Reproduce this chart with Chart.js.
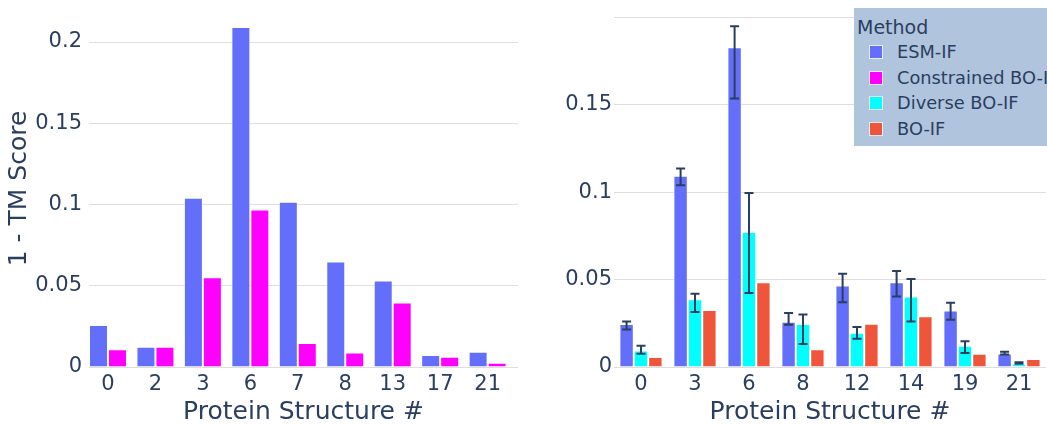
<!DOCTYPE html>
<html>
<head>
<meta charset="utf-8">
<script src="https://cdn.jsdelivr.net/npm/chart.js@4.4.1/dist/chart.umd.min.js"></script>
<style>
  html, body { margin: 0; padding: 0; background: #fff; overflow: hidden; }
  #wrap { position: relative; width: 1047px; height: 424px; overflow: hidden; }
  #leftBox { position: absolute; left: 0; top: 0; width: 530px; height: 424px; }
  #rightBox { position: absolute; left: 530px; top: 0; width: 517px; height: 424px; }
  #legend { position: absolute; left: 854px; top: 8px; width: 200px; height: 138px;
    background: #b0c4de; font-family: 'DejaVu Sans', sans-serif; color: #2a3f5f; }
  #legend .title { position: absolute; left: 3px; top: 8px; font-size: 19px; line-height: 22px; }
  #legend .item { position: absolute; left: 15px; height: 20px; font-size: 17.8px; line-height: 20px; white-space: nowrap; }
  #legend .sw { position: absolute; left: 0; top: 3px; width: 12px; height: 12px; border: 1px solid #e8ecf8; }
  #legend .lbl { position: absolute; left: 28px; top: 0; }
</style>
</head>
<body>
<div id="wrap">
  <div id="leftBox"><canvas id="leftChart" width="530" height="424"></canvas></div>
  <div id="rightBox"><canvas id="rightChart" width="517" height="424"></canvas></div>
  <div id="legend"></div>
</div>
<script>
// left panel
const leftCategories = ['0', '2', '3', '6', '7', '8', '13', '17', '21'];
const leftEsm = [0.0258, 0.0125, 0.1042, 0.2092, 0.1017, 0.0649, 0.0532, 0.0074, 0.0094];
const leftConstrained = [0.011, 0.0125, 0.0553, 0.097, 0.0147, 0.009, 0.0397, 0.0063, 0.0026];

// right panel
const rightCategories = ['0', '3', '6', '8', '12', '14', '19', '21'];
const rightEsm = [0.0246, 0.1095, 0.183, 0.0259, 0.0467, 0.0485, 0.0324, 0.0078];
const rightEsmLow = [0.0214, 0.104, 0.1537, 0.0242, 0.037, 0.0404, 0.0271, 0.0072];
const rightEsmHigh = [0.0261, 0.1136, 0.1951, 0.0309, 0.0534, 0.055, 0.0368, 0.0088];
const rightDiverse = [0.0095, 0.0388, 0.0773, 0.0246, 0.0196, 0.0404, 0.0122, 0.0019];
const rightDiverseLow = [0.0076, 0.0315, 0.0424, 0.0132, 0.0162, 0.0261, 0.008, 0.0019];
const rightDiverseHigh = [0.0122, 0.042, 0.0996, 0.0301, 0.0229, 0.0504, 0.0147, 0.0027];
const rightBoif = [0.0057, 0.0326, 0.0485, 0.0101, 0.0248, 0.029, 0.0076, 0.0046];

const methods = ['ESM-IF', 'Constrained BO-IF', 'Diverse BO-IF', 'BO-IF'];
const methodColors = ['#636efa', '#ff00ff', '#00ffff', '#ef553b'];
const yTickValues = [0, 0.05, 0.1, 0.15, 0.2];

const textColor = '#2a3f5f';
const gridColor = '#dedede';
const fontFamily = "'DejaVu Sans', sans-serif";

const errorBars = {
  id: 'errorBars',
  afterDatasetsDraw(chart) {
    const ctx = chart.ctx;
    const y = chart.scales.y;
    ctx.save();
    ctx.strokeStyle = textColor;
    ctx.lineWidth = 2;
    chart.data.datasets.forEach((ds, di) => {
      if (!ds.errLow) return;
      chart.getDatasetMeta(di).data.forEach((bar, i) => {
        const top = y.getPixelForValue(ds.errHigh[i]);
        const bot = y.getPixelForValue(ds.errLow[i]);
        ctx.beginPath();
        ctx.moveTo(bar.x, top); ctx.lineTo(bar.x, bot);
        ctx.moveTo(bar.x - 4.5, top); ctx.lineTo(bar.x + 4.5, top);
        ctx.moveTo(bar.x - 4.5, bot); ctx.lineTo(bar.x + 4.5, bot);
        ctx.stroke();
      });
    });
    ctx.restore();
  }
};

function barSet(label, values, color, extra) {
  return Object.assign({
    label: label,
    data: values,
    backgroundColor: color,
    borderColor: 'rgba(255,255,255,0.55)',
    borderWidth: 1,
    categoryPercentage: 0.8,
    barPercentage: 1.0
  }, extra || {});
}

function yScale(max, axisWidth, labelPad, hideTop, title) {
  return {
    min: 0,
    max: max,
    afterBuildTicks: s => { s.ticks = yTickValues.filter(v => v <= max).map(v => ({ value: v })); },
    afterFit: s => { s.width = axisWidth; s.paddingTop = 0; s.paddingBottom = 0; },
    border: { display: false },
    grid: { color: gridColor, lineWidth: 1, drawTicks: false },
    ticks: {
      color: textColor,
      padding: labelPad,
      font: { family: fontFamily, size: 21 },
      callback: v => (hideTop && v === 0.2) ? '' : String(+v.toFixed(2))
    },
    title: title ? {
      display: true,
      text: title,
      color: textColor,
      font: { family: fontFamily, size: 25, lineHeight: 1.2 },
      padding: { top: 4, bottom: 0 }
    } : { display: false }
  };
}

function xTitle() {
  return {
    display: true,
    text: 'Protein Structure #',
    color: textColor,
    font: { family: fontFamily, size: 25, lineHeight: 0.9 },
    padding: { top: 0, bottom: 0 }
  };
}

Chart.defaults.animation = false;

// left chart: numeric x so the plot range can be set like the original
new Chart(document.getElementById('leftChart').getContext('2d'), {
  type: 'bar',
  data: {
    datasets: [
      barSet(methods[0], leftEsm.map((v, i) => ({ x: i, y: v })), methodColors[0]),
      barSet(methods[1], leftConstrained.map((v, i) => ({ x: i, y: v })), methodColors[1])
    ]
  },
  options: {
    responsive: false,
    devicePixelRatio: 1,
    layout: { padding: { top: 10, right: 12, left: 0, bottom: 0 } },
    plugins: { legend: { display: false }, tooltip: { enabled: false } },
    scales: {
      x: {
        type: 'linear',
        min: -0.4,
        max: 8.64,
        offset: false,
        afterBuildTicks: s => { s.ticks = leftCategories.map((_, i) => ({ value: i })); },
        afterFit: s => { s.height = 57; },
        grid: { display: false, drawTicks: false },
        border: { display: false },
        ticks: {
          color: textColor,
          padding: 5,
          font: { family: fontFamily, size: 21 },
          callback: v => leftCategories[v]
        },
        title: xTitle()
      },
      y: yScale(0.2197, 89, 7, false, '1 - TM Score')
    }
  }
});

new Chart(document.getElementById('rightChart').getContext('2d'), {
  type: 'bar',
  data: {
    labels: rightCategories,
    datasets: [
      barSet(methods[0], rightEsm, methodColors[0], { errLow: rightEsmLow, errHigh: rightEsmHigh }),
      barSet(methods[2], rightDiverse, methodColors[2], { errLow: rightDiverseLow, errHigh: rightDiverseHigh }),
      barSet(methods[3], rightBoif, methodColors[3])
    ]
  },
  options: {
    responsive: false,
    devicePixelRatio: 1,
    layout: { padding: { top: 7, right: 1, left: 0, bottom: 0 } },
    plugins: { legend: { display: false }, tooltip: { enabled: false } },
    scales: {
      x: {
        afterFit: s => { s.height = 57; },
        grid: { display: false, drawTicks: false },
        border: { display: false },
        ticks: {
          color: textColor,
          padding: 5,
          font: { family: fontFamily, size: 21 }
        },
        title: xTitle()
      },
      y: yScale(0.2061, 84, 2, true, null)
    }
  },
  plugins: [errorBars]
});

// legend box over the right panel
const legend = document.getElementById('legend');
legend.innerHTML = '<div class="title">Method</div>' + methods.map((m, i) =>
  '<div class="item" style="top:' + (34 + i * 25.6) + 'px"><span class="sw" style="background:' +
  methodColors[i] + '"></span><span class="lbl">' + m + '</span></div>').join('');
</script>
</body>
</html>
